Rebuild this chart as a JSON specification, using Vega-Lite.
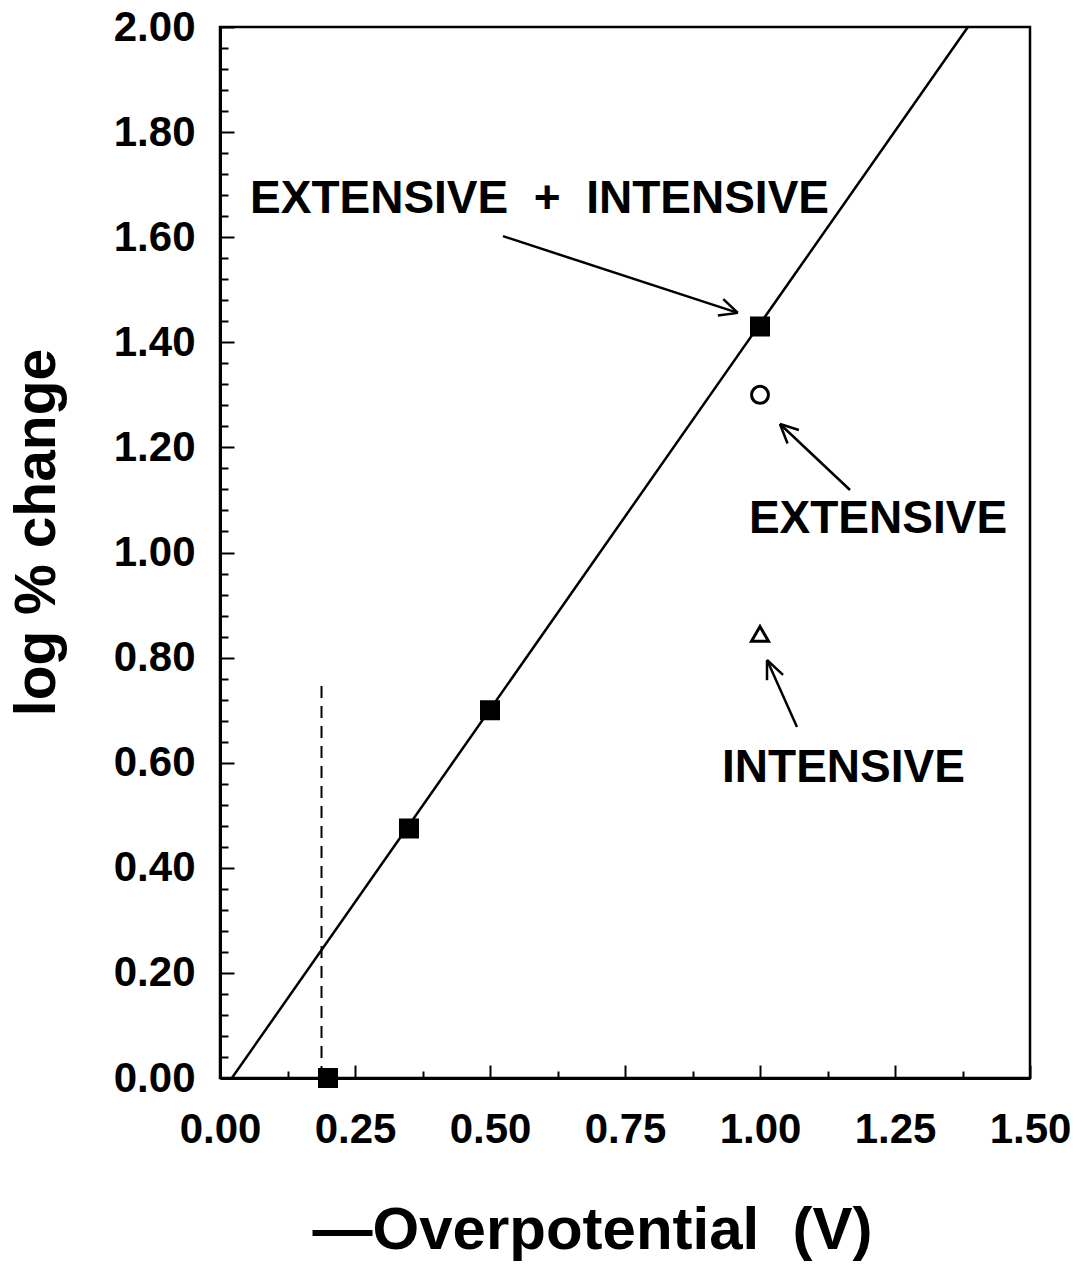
{
  "$schema": "https://vega.github.io/schema/vega-lite/v6.json",
  "width": 810,
  "height": 1051,
  "autosize": {"type": "none"},
  "padding": {"left": 220, "top": 27, "right": 55, "bottom": 187},
  "background": "white",
  "config": {
    "view": {"stroke": "black", "strokeWidth": 2.5},
    "font": "Liberation Sans"
  },
  "datasets": {
    "fit": [{"x": 0.022, "y": 0.0}, {"x": 1.385, "y": 2.0}],
    "cutoff": [{"x": 0.188, "y": 0.0, "y2": 0.755}],
    "points": [
      {"x": 0.2, "y": 0.0, "kind": "EXTENSIVE + INTENSIVE"},
      {"x": 0.35, "y": 0.475, "kind": "EXTENSIVE + INTENSIVE"},
      {"x": 0.5, "y": 0.70, "kind": "EXTENSIVE + INTENSIVE"},
      {"x": 1.0, "y": 1.43, "kind": "EXTENSIVE + INTENSIVE"},
      {"x": 1.0, "y": 1.30, "kind": "EXTENSIVE"},
      {"x": 1.0, "y": 0.845, "kind": "INTENSIVE"}
    ],
    "arrows": [
      {"x": 0.524, "y": 1.602, "x2": 0.959, "y2": 1.456},
      {"x": 0.959, "y": 1.456, "x2": 0.932, "y2": 1.482},
      {"x": 0.959, "y": 1.456, "x2": 0.922, "y2": 1.451},
      {"x": 1.1667, "y": 1.119, "x2": 1.037, "y2": 1.2445},
      {"x": 1.037, "y": 1.2445, "x2": 1.051, "y2": 1.2074},
      {"x": 1.037, "y": 1.2445, "x2": 1.072, "y2": 1.233},
      {"x": 1.0685, "y": 0.668, "x2": 1.013, "y2": 0.7954},
      {"x": 1.013, "y": 0.7954, "x2": 1.013, "y2": 0.757},
      {"x": 1.013, "y": 0.7954, "x2": 1.0426, "y2": 0.767}
    ],
    "labels": [
      {"x": 0.5917, "y": 1.646, "text": "EXTENSIVE \u00a0+\u00a0 INTENSIVE"},
      {"x": 1.2185, "y": 1.037, "text": "EXTENSIVE"},
      {"x": 1.1546, "y": 0.5633, "text": "INTENSIVE"}
    ]
  },
  "encoding": {
    "x": {
      "field": "x",
      "type": "quantitative",
      "scale": {"domain": [0, 1.5], "nice": false, "zero": false},
      "axis": {
        "values": [0, 0.125, 0.25, 0.375, 0.5, 0.625, 0.75, 0.875, 1.0, 1.125, 1.25, 1.375, 1.5],
        "labelExpr": "abs(datum.value*4 - round(datum.value*4)) < 0.01 ? format(datum.value, '.2f') : ''",
        "labelOverlap": false,
        "labelFlush": false,
        "labelFont": "Liberation Sans",
        "labelFontSize": 42,
        "labelFontWeight": "bold",
        "labelColor": "black",
        "labelPadding": 44,
        "tickSize": {"condition": {"test": "abs(datum.value*4 - round(datum.value*4)) < 0.01", "value": -13}, "value": -7},
        "tickColor": "black",
        "tickWidth": 2,
        "domainColor": "black",
        "domainWidth": 3,
        "grid": false,
        "title": "—Overpotential \u00a0(V)",
        "titleFont": "Liberation Sans",
        "titleFontSize": 60,
        "titleFontWeight": "bold",
        "titleColor": "black",
        "titleX": 372,
        "titleY": 170,
        "titleAlign": "center",
        "titleBaseline": "alphabetic"
      }
    },
    "y": {
      "field": "y",
      "type": "quantitative",
      "scale": {"domain": [0, 2], "nice": false, "zero": false},
      "axis": {
        "values": [0, 0.04, 0.08, 0.12, 0.16, 0.2, 0.24, 0.28, 0.32, 0.36, 0.4, 0.44, 0.48, 0.52, 0.56, 0.6, 0.64, 0.68, 0.72, 0.76, 0.8, 0.84, 0.88, 0.92, 0.96, 1.0, 1.04, 1.08, 1.12, 1.16, 1.2, 1.24, 1.28, 1.32, 1.36, 1.4, 1.44, 1.48, 1.52, 1.56, 1.6, 1.64, 1.68, 1.72, 1.76, 1.8, 1.84, 1.88, 1.92, 1.96, 2.0],
        "labelExpr": "abs(datum.value*5 - round(datum.value*5)) < 0.01 ? format(datum.value, '.2f') : ''",
        "labelOverlap": false,
        "labelFlush": false,
        "labelFont": "Liberation Sans",
        "labelFontSize": 42,
        "labelFontWeight": "bold",
        "labelColor": "black",
        "labelPadding": 39,
        "tickSize": {"condition": {"test": "abs(datum.value*5 - round(datum.value*5)) < 0.01", "value": -14}, "value": -8},
        "tickColor": "black",
        "tickWidth": 2,
        "domainColor": "black",
        "domainWidth": 3,
        "grid": false,
        "title": "log % change",
        "titleFont": "Liberation Sans",
        "titleFontSize": 57,
        "titleFontWeight": "bold",
        "titleColor": "black",
        "titleAngle": 270,
        "titleX": -166,
        "titleY": 505,
        "titleAlign": "center",
        "titleBaseline": "alphabetic"
      }
    }
  },
  "layer": [
    {
      "data": {"name": "fit"},
      "mark": {"type": "line", "color": "black", "strokeWidth": 2.5},
      "encoding": {}
    },
    {
      "data": {"name": "cutoff"},
      "mark": {"type": "rule", "color": "black", "strokeWidth": 2, "strokeDash": [12, 8]},
      "encoding": {"y2": {"field": "y2"}}
    },
    {
      "data": {"name": "arrows"},
      "mark": {"type": "rule", "color": "black", "strokeWidth": 2.5},
      "encoding": {"x2": {"field": "x2"}, "y2": {"field": "y2"}}
    },
    {
      "data": {"name": "points"},
      "mark": {"type": "point", "filled": false, "stroke": "black", "strokeWidth": 3, "size": 289, "opacity": 1},
      "encoding": {
        "shape": {"field": "kind", "type": "nominal", "scale": {"domain": ["EXTENSIVE + INTENSIVE", "EXTENSIVE", "INTENSIVE"], "range": ["square", "circle", "triangle-up"]}, "legend": null},
        "fill": {"field": "kind", "type": "nominal", "scale": {"domain": ["EXTENSIVE + INTENSIVE", "EXTENSIVE", "INTENSIVE"], "range": ["black", "white", "white"]}, "legend": null}
      }
    },
    {
      "data": {"name": "labels"},
      "mark": {"type": "text", "font": "Liberation Sans", "fontSize": 46, "fontWeight": "bold", "color": "black", "align": "center", "baseline": "alphabetic"},
      "encoding": {"text": {"field": "text"}}
    }
  ]
}
